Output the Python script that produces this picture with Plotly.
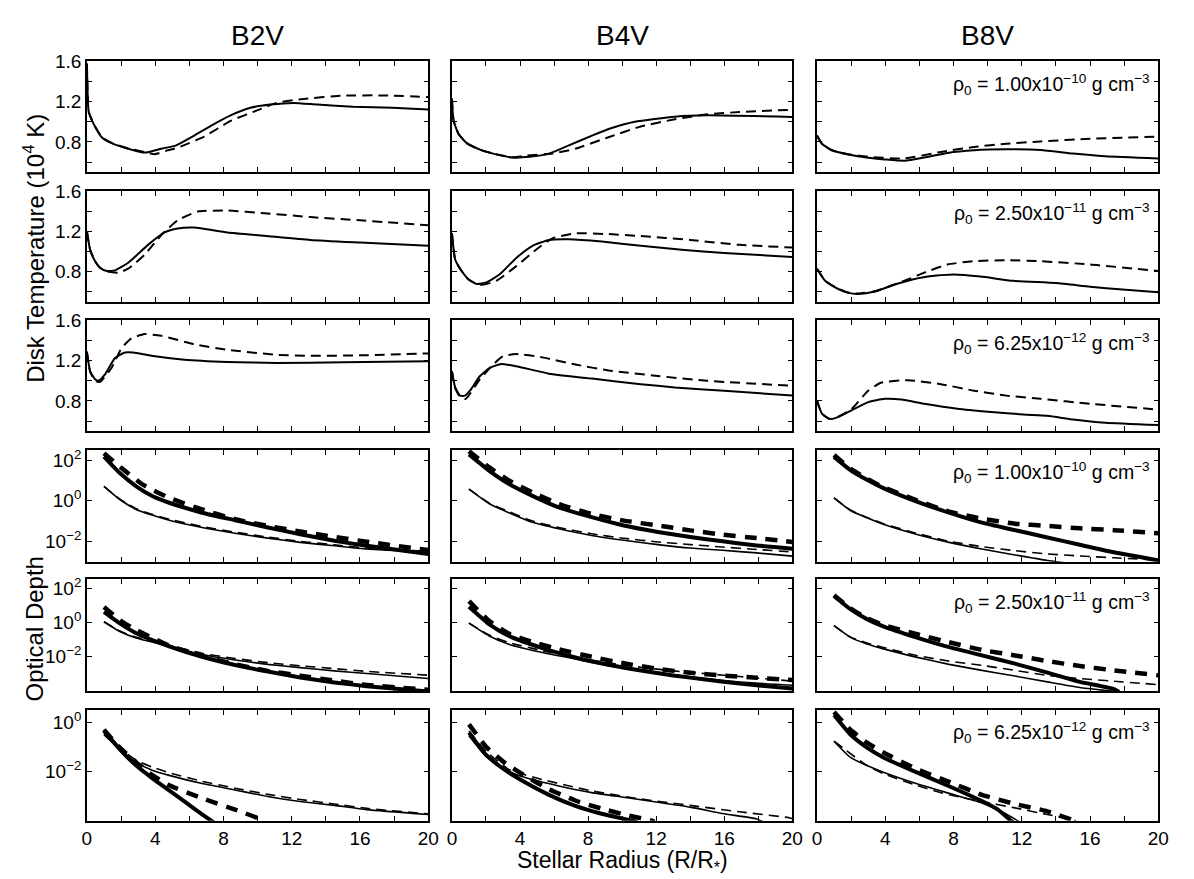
import plotly.graph_objects as go
from plotly.subplots import make_subplots

# ---------------- data ----------------
stars = ["B2V", "B4V", "B8V"]
rho_labels = ["ρ<sub>0</sub> = 1.00x10<sup>−10</sup> g cm<sup>−3</sup>",
              "ρ<sub>0</sub> = 2.50x10<sup>−11</sup> g cm<sup>−3</sup>",
              "ρ<sub>0</sub> = 6.25x10<sup>−12</sup> g cm<sup>−3</sup>"]
x_major = [0, 4, 8, 12, 16, 20]
x_minor = [2, 6, 10, 14, 18]
t_major = [0.8, 1.2, 1.6]
t_minor = [0.6, 1.0, 1.4]

# Disk temperature (10^4 K) : (R/R*, T)
T_B2V_1_solid = [(0,1.58),(0.05,1.25),(0.1,1.107),(0.4,0.977),(0.87,0.847),(1.45,0.788),(2.42,0.733),(3.39,0.694),(4.36,0.733),(5.23,0.766),(6.29,0.863),(7.26,0.96),(8.42,1.064),(9.58,1.139),(10.75,1.171),(12.1,1.188),(13.5,1.171),(15.6,1.149),(17.9,1.139),(20,1.123)]
T_B2V_1_dash = [(0,1.58),(0.05,1.25),(0.1,1.10),(0.4,0.98),(0.87,0.85),(1.45,0.79),(2.42,0.735),(3.39,0.70),(3.97,0.678),(4.74,0.717),(5.32,0.743),(6.87,0.853),(8.42,1.009),(9.97,1.113),(11.1,1.188),(12.7,1.227),(15.0,1.26),(17.3,1.262),(20,1.246)]
T_B2V_2_solid = [(0,1.2),(0.19,1.016),(0.48,0.902),(0.77,0.837),(1.16,0.805),(1.65,0.811),(2.42,0.886),(3.58,1.064),(4.55,1.188),(5.32,1.227),(6.29,1.236),(8.23,1.188),(10.4,1.155),(13.1,1.113),(16.0,1.087),(20,1.055)]
T_B2V_2_dash = [(0,1.2),(0.19,1.016),(0.48,0.902),(0.77,0.837),(1.16,0.80),(1.84,0.788),(2.42,0.827),(3.39,0.967),(4.36,1.162),(5.32,1.308),(6.49,1.395),(8.23,1.405),(10.4,1.379),(13.1,1.34),(16,1.308),(20,1.259)]
T_B2V_3_solid = [(0,1.29),(0.19,1.097),(0.48,1.016),(0.68,1.0),(1.06,1.064),(1.65,1.227),(2.23,1.282),(2.71,1.282),(3.78,1.249),(5.71,1.21),(8.23,1.188),(11.1,1.178),(15.0,1.184),(20,1.194)]
T_B2V_3_dash = [(0,1.29),(0.19,1.09),(0.48,1.0),(0.77,0.99),(1.45,1.13),(2.03,1.324),(2.61,1.421),(3.39,1.464),(4.36,1.447),(6.29,1.363),(8.23,1.308),(11.1,1.259),(13.1,1.249),(16,1.253),(20,1.272)]

T_B4V_1_solid = [(0,1.23),(0.1,1.009),(0.39,0.879),(0.87,0.788),(1.65,0.723),(2.42,0.684),(3.58,0.645),(4.55,0.652),(5.71,0.684),(6.87,0.766),(8.23,0.863),(9.39,0.938),(10.75,1.0),(13.1,1.051),(15.0,1.064),(20,1.048)]
T_B4V_1_dash = [(0,1.23),(0.1,1.009),(0.39,0.879),(0.87,0.788),(1.65,0.723),(2.42,0.684),(3.58,0.648),(4.36,0.665),(5.9,0.684),(7.26,0.733),(9.2,0.847),(11.1,0.954),(13.1,1.025),(15,1.074),(16.9,1.097),(20,1.12)]
T_B4V_2_solid = [(0,1.18),(0.19,0.918),(0.48,0.827),(0.97,0.723),(1.45,0.675),(2.03,0.691),(2.81,0.772),(3.78,0.934),(4.74,1.055),(5.71,1.113),(6.87,1.12),(8.81,1.097),(11.1,1.055),(13.5,1.016),(16,0.983),(20,0.944)]
T_B4V_2_dash = [(0,1.18),(0.19,0.918),(0.48,0.827),(0.97,0.72),(1.65,0.665),(2.61,0.707),(3.78,0.853),(4.94,1.016),(5.9,1.129),(7.26,1.178),(9.2,1.171),(11.1,1.152),(14.0,1.113),(16.9,1.064),(20,1.038)]
T_B4V_3_solid = [(0,1.097),(0.19,0.934),(0.48,0.853),(0.77,0.853),(1.06,0.902),(1.65,1.048),(2.23,1.129),(2.9,1.168),(3.78,1.145),(5.71,1.071),(8.23,1.022),(11.1,0.967),(13.1,0.934),(16,0.902),(20,0.853)]
T_B4V_3_dash = [(0,1.097),(0.19,0.93),(0.48,0.84),(0.8,0.82),(1.65,1.016),(2.42,1.162),(3.0,1.243),(3.78,1.266),(5.32,1.233),(7.26,1.162),(9.2,1.103),(12.1,1.048),(15,1.0),(20,0.951)]

T_B8V_1_solid = [(0,0.863),(0.29,0.782),(0.87,0.717),(1.84,0.675),(3.0,0.642),(3.97,0.626),(5.13,0.613),(6.29,0.645),(7.65,0.691),(9.2,0.717),(11.1,0.727),(13.1,0.72),(15,0.684),(16.9,0.658),(20,0.636)]
T_B8V_1_dash = [(0,0.863),(0.29,0.782),(0.87,0.717),(1.84,0.678),(3.0,0.652),(5.13,0.636),(7.26,0.701),(9.2,0.75),(11.1,0.782),(13.1,0.805),(16,0.831),(20,0.853)]
T_B8V_2_solid = [(0,0.827),(0.48,0.707),(1.06,0.642),(1.84,0.587),(2.42,0.577),(3.39,0.6),(4.36,0.658),(5.32,0.707),(6.49,0.749),(8.03,0.769),(9.58,0.749),(11.5,0.707),(14.0,0.684),(16,0.649),(17.9,0.62),(20,0.594)]
T_B8V_2_dash = [(0,0.827),(0.48,0.71),(1.06,0.645),(1.84,0.59),(2.42,0.58),(3.39,0.603),(4.36,0.66),(5.32,0.72),(6.29,0.788),(7.65,0.869),(9.2,0.902),(11.1,0.912),(13.1,0.902),(16,0.869),(20,0.805)]
T_B8V_3_solid = [(0,0.805),(0.29,0.675),(0.77,0.62),(1.26,0.642),(2.03,0.707),(3.0,0.788),(3.97,0.821),(4.94,0.814),(6.29,0.772),(8.23,0.723),(10.2,0.691),(12.1,0.665),(13.5,0.652),(15,0.616),(16.9,0.584),(20,0.561)]
T_B8V_3_dash = [(0,0.805),(0.29,0.675),(0.77,0.62),(1.26,0.645),(2.03,0.72),(3.0,0.902),(3.78,0.983),(5.32,1.006),(7.26,0.967),(9.2,0.902),(11.1,0.853),(13.1,0.821),(16,0.772),(20,0.714)]

# Optical depth : (R/R*, log10 tau)
D_B2V_1_thick_solid = [(1,2.17),(1.93,1.36),(2.89,0.71),(3.86,0.22),(4.82,-0.1),(6.75,-0.59),(8.68,-0.96),(10.6,-1.32),(12.5,-1.65),(14.5,-1.97),(16.4,-2.22),(20,-2.62)]
D_B2V_1_thick_dash = [(1,2.34),(2.03,1.61),(3.28,0.79),(4.82,0.14),(6.75,-0.43),(8.68,-0.91),(10.6,-1.24),(12.5,-1.52),(14.5,-1.78),(16.4,-2.02),(20,-2.43)]
D_B2V_1_thin_solid = [(1,0.71),(1.93,0.06),(2.89,-0.43),(3.86,-0.72),(4.82,-0.96),(6.75,-1.32),(8.68,-1.6),(10.6,-1.84),(12.5,-2.05),(14.5,-2.22),(16.4,-2.38),(20,-2.54)]
D_B2V_1_thin_dash = [(1,0.71),(1.93,0.08),(2.89,-0.4),(3.86,-0.68),(4.82,-0.91),(6.75,-1.27),(8.68,-1.55),(10.6,-1.79),(12.5,-2.0),(14.5,-2.17),(16.4,-2.33),(20,-2.49)]
D_B2V_2_thick_solid = [(1,0.61),(1.93,-0.06),(2.89,-0.63),(4.82,-1.39),(6.75,-2.0),(8.68,-2.48),(10.6,-2.86),(12.5,-3.2),(14.5,-3.49),(16.4,-3.71),(20,-4.02)]
D_B2V_2_thick_dash = [(1,0.9),(1.93,0.13),(2.89,-0.44),(3.86,-0.91),(4.82,-1.35),(6.75,-1.96),(8.68,-2.44),(10.6,-2.82),(12.5,-3.1),(14.5,-3.39),(16.4,-3.64),(20,-3.92)]
D_B2V_2_thin_solid = [(1,0.04),(1.93,-0.53),(2.89,-0.91),(4.82,-1.39),(6.75,-1.87),(8.68,-2.19),(10.6,-2.44),(12.5,-2.63),(14.5,-2.82),(16.4,-2.97),(20,-3.26)]
D_B2V_2_thin_dash = [(1,0.04),(1.93,-0.5),(2.89,-0.87),(4.82,-1.33),(6.75,-1.8),(8.68,-2.1),(10.6,-2.34),(12.5,-2.52),(14.5,-2.69),(16.4,-2.85),(20,-3.07)]
D_B2V_3_thick_solid = [(1,-0.34),(1.93,-1.1),(2.89,-1.76),(3.86,-2.29),(4.82,-2.77),(5.79,-3.26),(6.75,-3.74),(7.45,-4.08)]
D_B2V_3_thick_dash = [(1,-0.3),(1.93,-1.03),(2.89,-1.63),(3.86,-2.16),(4.82,-2.56),(6.75,-3.09),(8.68,-3.55),(10.2,-3.95),(10.4,-4.05)]
D_B2V_3_thin_solid = [(1,-0.5),(1.93,-1.1),(2.89,-1.63),(3.86,-1.96),(4.82,-2.16),(6.75,-2.49),(8.68,-2.75),(10.6,-3.02),(12.5,-3.22),(14.5,-3.38),(16.4,-3.55),(20,-3.75)]
D_B2V_3_thin_dash = [(1,-0.45),(1.93,-1.05),(2.89,-1.55),(3.86,-1.83),(4.82,-2.05),(6.75,-2.4),(8.68,-2.68),(10.6,-2.93),(12.5,-3.14),(14.5,-3.32),(16.4,-3.5),(20,-3.72)]

D_B4V_1_thick_solid = [(1,2.28),(2.22,1.46),(3.38,0.81),(4.73,0.24),(6.28,-0.33),(8.21,-0.81),(10.1,-1.22),(12.1,-1.54),(14.0,-1.79),(15.9,-2.0),(17.9,-2.2),(20,-2.36)]
D_B4V_1_thick_dash = [(1,2.44),(2.22,1.63),(3.38,0.98),(4.73,0.41),(6.28,-0.16),(8.21,-0.65),(10.1,-0.98),(12.1,-1.22),(14.0,-1.46),(15.9,-1.67),(17.9,-1.84),(20,-2.03)]
D_B4V_1_thin_solid = [(1,0.57),(2.22,-0.16),(3.38,-0.6),(4.73,-1.06),(6.28,-1.38),(8.21,-1.71),(10.1,-1.95),(12.1,-2.16),(14.0,-2.33),(15.9,-2.44),(17.9,-2.57),(20,-2.73)]
D_B4V_1_thin_dash = [(1,0.57),(2.22,-0.13),(3.38,-0.55),(4.73,-1.0),(6.28,-1.32),(8.21,-1.63),(10.1,-1.85),(12.1,-2.03),(14.0,-2.16),(15.9,-2.28),(17.9,-2.4),(20,-2.52)]
D_B4V_2_thick_solid = [(1,0.91),(2.22,-0.13),(3.38,-0.8),(5.32,-1.5),(7.25,-2.04),(9.18,-2.46),(11.1,-2.8),(13.0,-3.09),(15.0,-3.33),(16.9,-3.56),(20,-3.85)]
D_B4V_2_thick_dash = [(1,1.24),(2.22,0.06),(3.38,-0.67),(4.73,-1.14),(6.28,-1.56),(8.21,-2.0),(10.1,-2.38),(12.1,-2.7),(14.0,-2.93),(15.9,-3.09),(17.9,-3.22),(20,-3.35)]
D_B4V_2_thin_solid = [(1,-0.04),(2.22,-0.8),(3.38,-1.28),(5.32,-1.75),(7.25,-2.13),(9.18,-2.51),(11.1,-2.8),(13.0,-3.05),(15.0,-3.28),(16.9,-3.47),(20,-3.66)]
D_B4V_2_thin_dash = [(1,-0.04),(2.22,-0.75),(3.38,-1.18),(5.32,-1.65),(7.25,-2.04),(9.18,-2.35),(11.1,-2.61),(13.0,-2.82),(15.0,-2.99),(16.9,-3.15),(20,-3.41)]
D_B4V_3_thick_solid = [(1,-0.42),(2.03,-1.34),(3.09,-1.93),(4.35,-2.46),(5.7,-2.95),(7.25,-3.4),(8.79,-3.72),(10.6,-4.0),(10.9,-4.06)]
D_B4V_3_thick_dash = [(1,-0.09),(2.03,-1.01),(3.09,-1.64),(4.35,-2.2),(5.7,-2.72),(7.25,-3.18),(8.79,-3.51),(10.3,-3.78),(11.7,-3.99),(11.9,-4.05)]
D_B4V_3_thin_solid = [(1,-0.55),(2.03,-1.41),(3.38,-2.0),(4.35,-2.26),(6.28,-2.59),(8.21,-2.86),(10.1,-3.05),(12.1,-3.25),(14.0,-3.45),(15.9,-3.71),(17.9,-3.93),(18.3,-4.05)]
D_B4V_3_thin_dash = [(1,-0.36),(2.03,-1.2),(3.38,-1.93),(5.32,-2.33),(8.21,-2.79),(11.1,-3.12),(14.0,-3.38),(16.9,-3.64),(19.8,-3.88),(20,-3.92)]

D_B8V_1_thick_solid = [(1,2.16),(1.96,1.51),(2.93,1.03),(3.89,0.62),(5.81,-0.03),(7.74,-0.59),(9.66,-1.08),(11.6,-1.45),(13.5,-1.81),(15.4,-2.17),(17.4,-2.54),(20,-2.94)]
D_B8V_1_thick_dash = [(1,2.25),(1.96,1.58),(2.93,1.08),(3.89,0.67),(5.81,0.03),(7.74,-0.54),(9.66,-0.88),(11.6,-1.13),(13.5,-1.24),(15.4,-1.36),(17.4,-1.45),(20,-1.6)]
D_B8V_1_thin_solid = [(1,0.14),(1.96,-0.48),(2.93,-0.84),(3.89,-1.16),(5.81,-1.65),(7.74,-2.05),(9.66,-2.38),(11.6,-2.67),(13.5,-2.94),(15.4,-3.15)]
D_B8V_1_thin_dash = [(1,0.14),(1.96,-0.46),(2.93,-0.82),(3.89,-1.13),(5.81,-1.6),(7.74,-2.0),(9.66,-2.26),(11.6,-2.46),(13.5,-2.62),(15.4,-2.72),(17.4,-2.81),(20,-2.92)]
D_B8V_2_thick_solid = [(1,1.54),(1.96,0.77),(2.93,0.19),(3.89,-0.23),(5.81,-0.87),(7.74,-1.44),(9.66,-1.92),(11.6,-2.4),(13.5,-2.92),(15.4,-3.46),(17.4,-3.88),(17.7,-4.05)]
D_B8V_2_thick_dash = [(1,1.58),(1.96,0.82),(2.93,0.25),(3.89,-0.15),(5.81,-0.67),(7.74,-1.15),(9.66,-1.6),(11.6,-1.92),(13.5,-2.25),(15.4,-2.54),(17.4,-2.79),(20,-3.08)]
D_B8V_2_thin_solid = [(1,-0.19),(1.96,-0.87),(2.93,-1.25),(3.89,-1.54),(5.81,-2.02),(7.74,-2.44),(9.66,-2.79),(11.6,-3.12),(13.5,-3.46),(15.4,-3.79),(17.4,-4.02),(17.6,-4.05)]
D_B8V_2_thin_dash = [(1,-0.19),(1.96,-0.85),(2.93,-1.2),(3.89,-1.46),(5.81,-1.92),(7.74,-2.25),(9.66,-2.5),(11.6,-2.79),(13.5,-3.08),(15.4,-3.27),(17.4,-3.42),(20,-3.62)]
D_B8V_3_thick_solid = [(1,0.29),(1.96,-0.5),(2.93,-1.03),(3.89,-1.43),(5.81,-2.03),(7.74,-2.6),(9.66,-3.2),(10.6,-3.55),(11.4,-4.02),(11.5,-4.06)]
D_B8V_3_thick_dash = [(1,0.42),(1.96,-0.3),(2.93,-0.83),(3.89,-1.23),(5.81,-1.89),(7.74,-2.42),(9.66,-2.95),(11.6,-3.32),(13.5,-3.62),(15.1,-4.01),(15.2,-4.05)]
D_B8V_3_thin_solid = [(1,-0.77),(1.96,-1.43),(2.93,-1.76),(3.89,-2.03),(5.81,-2.49),(7.74,-2.89),(9.66,-3.28),(11.0,-3.7),(11.8,-4.02),(11.9,-4.06)]
D_B8V_3_thin_dash = [(1,-0.77),(2.93,-1.76),(3.89,-2.09),(5.81,-2.56),(7.74,-2.95),(9.66,-3.22),(11.6,-3.48),(13.5,-3.75),(15.1,-3.99),(15.2,-4.05)]

# optical-depth axis ranges per row (log10) and labelled decades
od_ranges = [(-3, 2.5), (-4, 2.5), (-4, 0.5)]
od_tickexp = [[-2, 0, 2], [-2, 0, 2], [-2, 0]]

temp_series = {
    "B2V": [(T_B2V_1_solid, T_B2V_1_dash), (T_B2V_2_solid, T_B2V_2_dash), (T_B2V_3_solid, T_B2V_3_dash)],
    "B4V": [(T_B4V_1_solid, T_B4V_1_dash), (T_B4V_2_solid, T_B4V_2_dash), (T_B4V_3_solid, T_B4V_3_dash)],
    "B8V": [(T_B8V_1_solid, T_B8V_1_dash), (T_B8V_2_solid, T_B8V_2_dash), (T_B8V_3_solid, T_B8V_3_dash)],
}
od_series = {
    "B2V": [(D_B2V_1_thick_solid, D_B2V_1_thick_dash, D_B2V_1_thin_solid, D_B2V_1_thin_dash),
            (D_B2V_2_thick_solid, D_B2V_2_thick_dash, D_B2V_2_thin_solid, D_B2V_2_thin_dash),
            (D_B2V_3_thick_solid, D_B2V_3_thick_dash, D_B2V_3_thin_solid, D_B2V_3_thin_dash)],
    "B4V": [(D_B4V_1_thick_solid, D_B4V_1_thick_dash, D_B4V_1_thin_solid, D_B4V_1_thin_dash),
            (D_B4V_2_thick_solid, D_B4V_2_thick_dash, D_B4V_2_thin_solid, D_B4V_2_thin_dash),
            (D_B4V_3_thick_solid, D_B4V_3_thick_dash, D_B4V_3_thin_solid, D_B4V_3_thin_dash)],
    "B8V": [(D_B8V_1_thick_solid, D_B8V_1_thick_dash, D_B8V_1_thin_solid, D_B8V_1_thin_dash),
            (D_B8V_2_thick_solid, D_B8V_2_thick_dash, D_B8V_2_thin_solid, D_B8V_2_thin_dash),
            (D_B8V_3_thick_solid, D_B8V_3_thick_dash, D_B8V_3_thin_solid, D_B8V_3_thin_dash)],
}

# ---------------- layout geometry (pixels) ----------------
W, H = 1194, 879
col_px = [(83, 429), (453, 798), (823, 1169)]
row_px = [(52, 164), (183, 295), (314, 426), (445, 558), (576, 689), (708, 820)]
FONT = "Liberation Sans, Arial, Helvetica, sans-serif"

def px_x(p):
    return p / W

def px_y(p):
    return 1 - p / H

fig = make_subplots(rows=6, cols=3)

def add_line(pts, r, c, width, dash, log=False):
    xs = [p[0] for p in pts]
    ys = [10 ** p[1] for p in pts] if log else [p[1] for p in pts]
    fig.add_trace(go.Scatter(x=xs, y=ys, mode="lines",
                             line=dict(color="black", width=width, dash=dash,
                                       shape="spline", smoothing=0.5),
                             showlegend=False, hoverinfo="skip"), row=r, col=c)

for ci, star in enumerate(stars):
    c = ci + 1
    for ri in range(3):
        solid, dash = temp_series[star][ri]
        add_line(solid, ri + 1, c, 2, "solid")
        add_line(dash, ri + 1, c, 2, "10px,6px")
    for ri in range(3):
        ts, td, ns, nd = od_series[star][ri]
        r = ri + 4
        add_line(ns, r, c, 1.6, "solid", log=True)
        add_line(nd, r, c, 1.6, "10px,6px", log=True)
        add_line(ts, r, c, 4, "solid", log=True)
        add_line(td, r, c, 4.5, "12px,9px", log=True)

axis_common = dict(showline=True, linecolor="black", linewidth=1.5, mirror="ticks",
                   ticks="inside", ticklen=5, tickwidth=1, tickcolor="black",
                   showgrid=False, zeroline=False,
                   tickfont=dict(family=FONT, size=19, color="black"))
minor_common = dict(ticks="inside", ticklen=5, tickwidth=1, tickcolor="black", showgrid=False)

for ri in range(6):
    r = ri + 1
    y0, y1 = row_px[ri]
    for ci in range(3):
        c = ci + 1
        x0, x1 = col_px[ci]
        fig.update_xaxes(domain=[px_x(x0), px_x(x1)], range=[0, 20],
                         tickmode="array", tickvals=x_major,
                         minor=dict(tickmode="array", tickvals=x_minor, **minor_common),
                         showticklabels=(r == 6),
                         row=r, col=c, **axis_common)
        if ri < 3:
            fig.update_yaxes(domain=[px_y(y1), px_y(y0)], range=[0.5, 1.6],
                             tickmode="array", tickvals=t_major,
                             ticktext=["%.1f" % v for v in t_major],
                             minor=dict(tickmode="array", tickvals=t_minor, **minor_common),
                             showticklabels=(c == 1),
                             row=r, col=c, **axis_common)
        else:
            lo, hi = od_ranges[ri - 3]
            exps = od_tickexp[ri - 3]
            texts = ["10<sup>%s</sup>" % (str(e).replace("-", "−")) for e in exps]
            fig.update_yaxes(domain=[px_y(y1), px_y(y0)], type="log", range=[lo, hi],
                             tickmode="array", tickvals=[10 ** e for e in exps],
                             ticktext=texts, showticklabels=(c == 1),
                             row=r, col=c, **axis_common)

annotations = []
for ci, star in enumerate(stars):
    x0, x1 = col_px[ci]
    annotations.append(dict(text=star, x=px_x((x0 + x1) / 2), y=px_y(26),
                            xref="paper", yref="paper", showarrow=False,
                            xanchor="center", yanchor="middle",
                            font=dict(family=FONT, size=28, color="black")))
for ri in range(6):
    y0, y1 = row_px[ri]
    annotations.append(dict(text=rho_labels[ri % 3], x=px_x(1163), y=px_y(y0 + 23),
                            xref="paper", yref="paper", showarrow=False,
                            xanchor="right", yanchor="middle",
                            font=dict(family=FONT, size=19.5, color="black")))
annotations.append(dict(text="Disk Temperature (10<sup>4</sup> K)", x=px_x(30),
                        y=px_y(241), textangle=-90,
                        xref="paper", yref="paper", showarrow=False,
                        xanchor="center", yanchor="middle",
                        font=dict(family=FONT, size=24, color="black")))
annotations.append(dict(text="Optical Depth", x=px_x(30),
                        y=px_y(626), textangle=-90,
                        xref="paper", yref="paper", showarrow=False,
                        xanchor="center", yanchor="middle",
                        font=dict(family=FONT, size=24, color="black")))
annotations.append(dict(text="Stellar Radius (R/R<sub>*</sub>)",
                        x=px_x((col_px[1][0] + col_px[1][1]) / 2), y=px_y(861),
                        xref="paper", yref="paper", showarrow=False,
                        xanchor="center", yanchor="middle",
                        font=dict(family=FONT, size=23, color="black")))

fig.update_layout(width=W, height=H, margin=dict(l=0, r=0, t=0, b=0),
                  paper_bgcolor="white", plot_bgcolor="white",
                  annotations=annotations, showlegend=False,
                  font=dict(family=FONT, color="black"))

fig.write_html("out.html")
